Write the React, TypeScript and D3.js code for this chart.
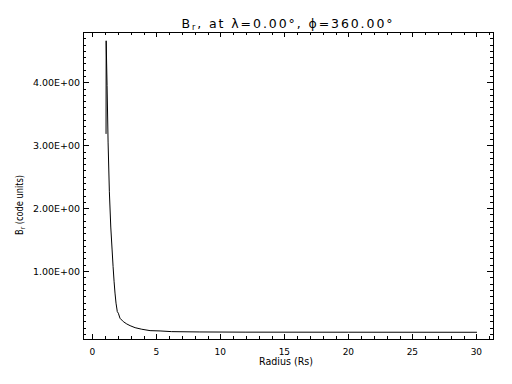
import React from "react";
import * as d3 from "d3";

const radius = [1.07, 1.08, 1.15, 1.23, 1.33, 1.44, 1.54, 1.62, 1.70, 1.77, 1.85, 1.95, 2.03, 2.16, 2.42, 2.69, 2.95, 3.34, 3.86, 4.51, 5.29, 6.2, 8.4, 12.0, 20.0, 30.05];
const br = [3.18, 4.66, 3.95, 3.05, 2.26, 1.70, 1.35, 1.07, 0.83, 0.65, 0.49, 0.355, 0.33, 0.25, 0.196, 0.159, 0.132, 0.10, 0.075, 0.053, 0.048, 0.037, 0.032, 0.029, 0.028, 0.027];
const xMajor = [0, 5, 10, 15, 20, 25, 30];
const yMajor = [1, 2, 3, 4];
const xDomain = [-0.73, 31.3];
const yDomain = [-0.08, 4.8];

function fmtE(v: number): string {
  const [m, e] = v.toExponential(2).toUpperCase().split("E");
  const sign = e[0] === "-" ? "-" : "+";
  const digits = e.replace(/[+-]/, "").padStart(2, "0");
  return `${m}E${sign}${digits}`;
}

export default function App() {
  const L = 83, R = 493, T = 32, B = 339;
  const x = d3.scaleLinear().domain(xDomain).range([L, R]);
  const y = d3.scaleLinear().domain(yDomain).range([B, T]);
  const pts: [number, number][] = radius.map((r, i) => [r, br[i]]);
  const line = d3.line<[number, number]>().x((d) => x(d[0])).y((d) => y(d[1]));
  const xMinor = d3.range(0, 32, 1).filter((v) => !xMajor.includes(v));
  const yMinor = d3.range(0, 48, 1).map((v) => v / 10).filter((v) => !yMajor.includes(v));
  const font = "'DejaVu Sans', sans-serif";
  const px = (v: number) => Math.round(v) + 0.5;

  return (
    <svg width={512} height={384} style={{ position: "absolute", left: 0, top: 0, background: "#fff" }}>
      <rect x={0} y={0} width={512} height={384} fill="#fff" />
      <g stroke="#000" strokeWidth={1} shapeRendering="crispEdges" fill="none">
        <rect x={L + 0.5} y={T + 0.5} width={R - L} height={B - T} />
        {xMajor.map((v) => (
          <g key={"xm" + v}>
            <line x1={px(x(v))} x2={px(x(v))} y1={B} y2={B - 5} />
            <line x1={px(x(v))} x2={px(x(v))} y1={T} y2={T + 5} />
          </g>
        ))}
        {xMinor.map((v) => (
          <g key={"xn" + v}>
            <line x1={px(x(v))} x2={px(x(v))} y1={B} y2={B - 3} />
            <line x1={px(x(v))} x2={px(x(v))} y1={T} y2={T + 3} />
          </g>
        ))}
        {yMajor.map((v) => (
          <g key={"ym" + v}>
            <line y1={px(y(v))} y2={px(y(v))} x1={L} x2={L + 6} />
            <line y1={px(y(v))} y2={px(y(v))} x1={R} x2={R - 6} />
          </g>
        ))}
        {yMinor.map((v) => (
          <g key={"yn" + v}>
            <line y1={px(y(v))} y2={px(y(v))} x1={L} x2={L + 3} />
            <line y1={px(y(v))} y2={px(y(v))} x1={R} x2={R - 3} />
          </g>
        ))}
      </g>
      <path d={line(pts) || ""} fill="none" stroke="#000" strokeWidth={1} />
      <g fontFamily={font} fontSize={9} fill="#000">
        {xMajor.map((v) => (
          <text key={"xl" + v} x={x(v)} y={354.5} textAnchor="middle">{String(v)}</text>
        ))}
        {yMajor.map((v) => (
          <text key={"yl" + v} x={80} y={y(v) + 3.7} textAnchor="end" textLength={47} lengthAdjust="spacingAndGlyphs">{fmtE(v)}</text>
        ))}
        <text x={286} y={364.5} textAnchor="middle" fontSize={10} textLength={54} lengthAdjust="spacingAndGlyphs">Radius (Rs)</text>
        <text transform="translate(22.8,205) rotate(-90)" textAnchor="middle" fontSize={10} textLength={60} lengthAdjust="spacingAndGlyphs">
          B<tspan fontSize={7} dy={2}>r</tspan><tspan dy={-2}> (code units)</tspan>
        </text>
      </g>
      <text x={287} y={28} textAnchor="middle" fontFamily={font} fontSize={12.5} textLength={211} lengthAdjust="spacing" fill="#000">
        B<tspan fontSize={8} dy={2}>r</tspan><tspan dy={-2}>, at λ=0.00°, ϕ=360.00°</tspan>
      </text>
    </svg>
  );
}
